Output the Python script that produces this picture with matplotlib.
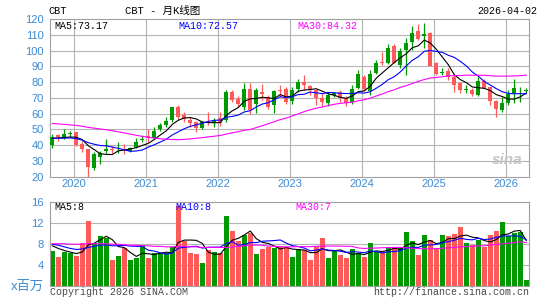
import numpy as np
import pandas as pd
import matplotlib.pyplot as plt


# --------------------------------------------------------------------------- #
# Data ---------------------------------------------------------------------- #
# --------------------------------------------------------------------------- #

months = pd.period_range('2019-09', periods=80, freq='M')

open_ = [40.0, 46.3, 45.0, 47.2, 48.3, 40.5, 37.5, 25.5, 32.5, 36.3,
         37.5, 37.3, 37.5, 36.5, 39.0, 43.5, 45.7, 44.7, 50.6, 52.7,
         56.0, 64.0, 59.0, 56.0, 54.5, 51.0, 56.2, 54.2, 57.5, 56.0,
         73.5, 69.2, 64.3, 75.9, 66.4, 74.0, 70.7, 65.4, 74.9, 75.9,
         68.0, 75.9, 80.1, 77.4, 74.9, 70.0, 66.8, 71.7, 74.0, 69.8,
         67.2, 76.5, 83.5, 74.5, 85.6, 93.0, 92.5, 103.0, 91.0, 100.5,
         105.5, 112.7, 109.5, 111.0, 92.4, 85.8, 87.3, 83.5, 79.3, 75.3,
         75.3, 71.9, 81.0, 76.7, 68.2, 62.3, 66.6, 72.9, 74.8, 74.7]
high = [47.0, 47.4, 50.5, 49.0, 48.5, 42.5, 37.8, 36.0, 36.5, 44.0,
        39.5, 42.0, 40.5, 39.0, 44.7, 46.3, 50.5, 51.5, 53.8, 58.0,
        64.5, 65.4, 61.0, 58.0, 55.5, 55.5, 61.0, 57.5, 61.0, 75.3,
        75.0, 71.0, 79.5, 79.5, 76.0, 78.6, 71.8, 75.3, 78.0, 77.0,
        77.0, 82.2, 84.4, 78.2, 75.9, 73.0, 73.8, 73.8, 75.1, 71.0,
        78.2, 87.5, 84.6, 87.9, 94.1, 99.4, 104.2, 104.2, 102.0, 107.8,
        116.0, 117.0, 117.5, 112.0, 92.8, 88.8, 88.8, 84.6, 80.3, 78.2,
        76.1, 83.5, 82.0, 77.0, 69.0, 70.4, 75.0, 81.8, 77.1, 76.0]
low = [38.5, 42.4, 44.0, 45.4, 39.5, 35.5, 20.0, 24.5, 28.0, 35.0,
       35.0, 35.0, 34.5, 35.5, 38.5, 42.0, 42.0, 43.8, 49.0, 51.7,
       55.0, 55.9, 54.8, 51.7, 48.5, 50.5, 52.7, 51.5, 52.5, 55.0,
       67.5, 64.0, 62.2, 60.1, 60.5, 69.0, 63.3, 60.5, 70.5, 66.4,
       66.4, 73.8, 75.0, 71.7, 65.6, 64.7, 64.7, 70.5, 67.6, 64.9,
       66.2, 75.5, 74.5, 72.0, 85.0, 91.0, 91.5, 92.0, 89.0, 84.6,
       100.4, 107.0, 101.5, 90.0, 84.5, 84.6, 81.4, 74.0, 73.4, 72.9,
       71.2, 71.2, 76.0, 65.5, 58.1, 61.3, 65.5, 66.6, 67.6, 74.0]
close = [45.0, 45.3, 47.0, 47.9, 40.0, 37.5, 26.0, 34.5, 35.0, 37.8,
         37.0, 37.8, 37.0, 38.5, 42.0, 44.0, 44.3, 49.3, 52.7, 55.3,
         64.3, 57.6, 56.5, 54.0, 51.0, 54.5, 55.7, 56.3, 54.3, 73.8,
         69.0, 66.4, 75.9, 62.2, 74.9, 72.8, 64.3, 74.4, 74.2, 67.5,
         75.3, 80.1, 78.0, 75.9, 70.0, 67.5, 71.7, 73.2, 69.8, 66.6,
         75.5, 85.0, 75.5, 85.0, 92.0, 92.0, 101.5, 92.0, 100.0, 105.0,
         111.0, 107.5, 110.3, 90.5, 85.5, 86.3, 83.0, 78.5, 75.0, 75.9,
         72.5, 80.5, 76.5, 68.2, 62.7, 66.5, 72.5, 76.5, 75.2, 75.2]

# volume in millions
volume = [6.6, 5.5, 6.5, 6.3, 5.7, 8.1, 12.3, 8.1, 9.5, 9.1,
          4.9, 5.7, 7.1, 4.9, 5.3, 7.8, 5.3, 6.3, 6.2, 6.3,
          7.3, 15.1, 8.5, 6.3, 6.0, 4.4, 6.8, 6.5, 6.3, 13.3,
          10.5, 8.5, 9.7, 10.1, 6.0, 7.0, 7.4, 7.2, 7.4, 7.4,
          5.5, 6.9, 6.8, 4.9, 7.4, 9.1, 5.2, 6.6, 5.8, 5.2,
          6.9, 6.2, 5.5, 8.1, 6.4, 6.4, 7.3, 7.4, 7.1, 10.3,
          8.6, 5.8, 9.7, 8.7, 7.2, 9.7, 9.5, 9.8, 11.1, 8.1,
          7.7, 8.8, 7.3, 9.7, 10.5, 12.2, 9.5, 10.1, 10.3, 1.0]

# MA values at the left edge (averages reach back before the first month)
ma5_lead = [44.4, 44.6, 44.9, 45.2]
ma10_lead = [44.3, 44.4, 44.5, 44.6, 44.2, 43.2, 41.6, 40.6, 39.8]
ma30_lead = [53.8, 53.5, 53.2, 52.9, 52.6, 52.0, 51.3, 50.8, 50.3, 49.8,
             49.2, 48.5, 47.8, 47.0, 46.3, 45.6, 45.0, 44.5, 44.1, 43.8,
             43.6, 43.5, 43.7, 44.0, 44.4, 44.8, 45.3, 45.7, 46.2]
vma5_lead = [7.6, 7.1, 6.7, 6.4]
vma10_lead = [7.9, 7.7, 7.4, 7.1, 6.9, 7.0, 7.3, 7.5, 7.7]
vma30_lead = [8.0, 8.0, 8.0, 7.9, 7.9, 7.9, 8.0, 8.0, 8.0, 8.0,
              7.9, 7.9, 7.8, 7.7, 7.7, 7.6, 7.6, 7.5, 7.5, 7.4,
              7.4, 7.5, 7.5, 7.4, 7.4, 7.3, 7.3, 7.3, 7.3]

price_ticks = list(range(20, 121, 10))
vol_ticks = [0, 4, 8, 12, 16]
vol_labels = ['x百万', '4', '8', '12', '16']


# --------------------------------------------------------------------------- #
# Helpers ------------------------------------------------------------------- #
# --------------------------------------------------------------------------- #

W, H = 545, 300
GREEN = '#009a00'
RED = '#ff5a5a'
TICK = '#3b8bd4'
GRID = '#b4b4b4'
MONO = ['Liberation Mono', 'Noto Sans CJK SC']


def moving_avg(values, n, lead):
    s = pd.Series(values, dtype=float).rolling(n).mean()
    s.iloc[:n-1] = lead
    return(s.values)


def px(x, y):
    # pixel position -> figure fraction
    return(x / W, 1 - y / H)


def style_axes(ax):
    for sp in ax.spines.values():
        sp.set_color('#a0a0a0')
        sp.set_linewidth(0.8)
    ax.tick_params(length=0, colors=TICK, labelsize=8)
    ax.set_xlim(-0.38, 79.5)


# --------------------------------------------------------------------------- #
# Plot ---------------------------------------------------------------------- #
# --------------------------------------------------------------------------- #

plt.rcParams['font.family'] = ['Liberation Sans', 'Noto Sans CJK SC']

o = np.array(open_)
c = np.array(close)
x = np.arange(len(c))
colors = np.where(c >= o, GREEN, RED)
year_pos = [i - 0.4 for i, m in enumerate(months) if m.month == 1]
year_lbl = [str(m.year) for m in months if m.month == 1]

fig = plt.figure(figsize=(W / 100, H / 100), dpi=100)

# ---- PRICE PANEL ---- #
ax = fig.add_axes([50 / W, 1 - 176.7 / H, 479.3 / W, 157.5 / H])
style_axes(ax)
ax.set_ylim(20, 120)
for p in price_ticks[1:-1]:
    ax.axhline(p, color=GRID, lw=0.8, zorder=0)
for xp in year_pos:
    ax.axvline(xp, color=GRID, lw=0.8, zorder=0)

ax.vlines(x, low, high, colors=colors, lw=0.9, zorder=2)
ax.bar(x, np.maximum(np.abs(c - o), 0.45), bottom=np.minimum(o, c),
       width=0.7, color=colors, lw=0, zorder=3)

ax.plot(x, moving_avg(close, 5, ma5_lead), color='black', lw=0.8, zorder=4)
ax.plot(x, moving_avg(close, 10, ma10_lead), color='#0000ff', lw=0.8,
        zorder=4)
ax.plot(x, moving_avg(close, 30, ma30_lead), color='#ff00ff', lw=0.8,
        zorder=4)

ax.set_yticks(price_ticks)
ax.set_xticks(year_pos)
ax.set_xticklabels(year_lbl)
ax.tick_params(axis='y', pad=4.5)
ax.tick_params(axis='x', pad=1.5)

# sina watermark
ax.text(0.985, 0.06, 'sina', transform=ax.transAxes, ha='right',
        va='bottom', color='#c4c4c4', fontsize=11, fontweight='bold',
        fontstyle='italic', zorder=1)

# ---- VOLUME PANEL ---- #
av = fig.add_axes([50 / W, 1 - 285.7 / H, 479.3 / W, 84 / H])
style_axes(av)
av.set_ylim(0, 16)
for v in vol_ticks[1:-1]:
    av.axhline(v, color=GRID, lw=0.8, zorder=0)
av.bar(x, volume, width=0.83, color=colors, lw=0, zorder=2)
av.plot(x, moving_avg(volume, 5, vma5_lead), color='black', lw=0.8,
        zorder=4)
av.plot(x, moving_avg(volume, 10, vma10_lead), color='#0000ff', lw=0.8,
        zorder=4)
av.plot(x, moving_avg(volume, 30, vma30_lead), color='#ff00ff', lw=0.8,
        zorder=4)
av.set_xticks([])
av.set_yticks(vol_ticks)
av.set_yticklabels(vol_labels)
av.tick_params(axis='y', pad=4.5)
av.get_yticklabels()[0].set_fontsize(9.5)

# ---- TEXTS ---- #
fig.text(*px(48, 11), 'CBT', family=MONO, fontsize=7.4, va='center')
fig.text(*px(163, 11), 'CBT - 月K线图', family=MONO, fontsize=7.6,
         ha='center', va='center')
fig.text(*px(537, 11), '2026-04-02', family=MONO, fontsize=7.2,
         ha='right', va='center')

fig.text(*px(54, 26), 'MA5:73.17', family=MONO, fontsize=7.2,
         color='black', va='center')
fig.text(*px(178, 26), 'MA10:72.57', family=MONO, fontsize=7.2,
         color='#0000ff', va='center')
fig.text(*px(297, 26), 'MA30:84.32', family=MONO, fontsize=7.2,
         color='#ff00ff', va='center')

fig.text(*px(54, 206.5), 'MA5:8', family=MONO, fontsize=7.2,
         color='black', va='center')
fig.text(*px(175, 206.5), 'MA10:8', family=MONO, fontsize=7.2,
         color='#0000ff', va='center')
fig.text(*px(295, 206.5), 'MA30:7', family=MONO, fontsize=7.2,
         color='#ff00ff', va='center')

fig.text(*px(50, 292), 'Copyright 2026 SINA.COM', family=MONO,
         fontsize=7.2, color='#4a4a4a', va='center')
fig.text(*px(529, 292), 'http://finance.sina.com.cn', family=MONO,
         fontsize=7.2, color='#4a4a4a', ha='right', va='center')

fig.savefig('out.png', dpi=100)
